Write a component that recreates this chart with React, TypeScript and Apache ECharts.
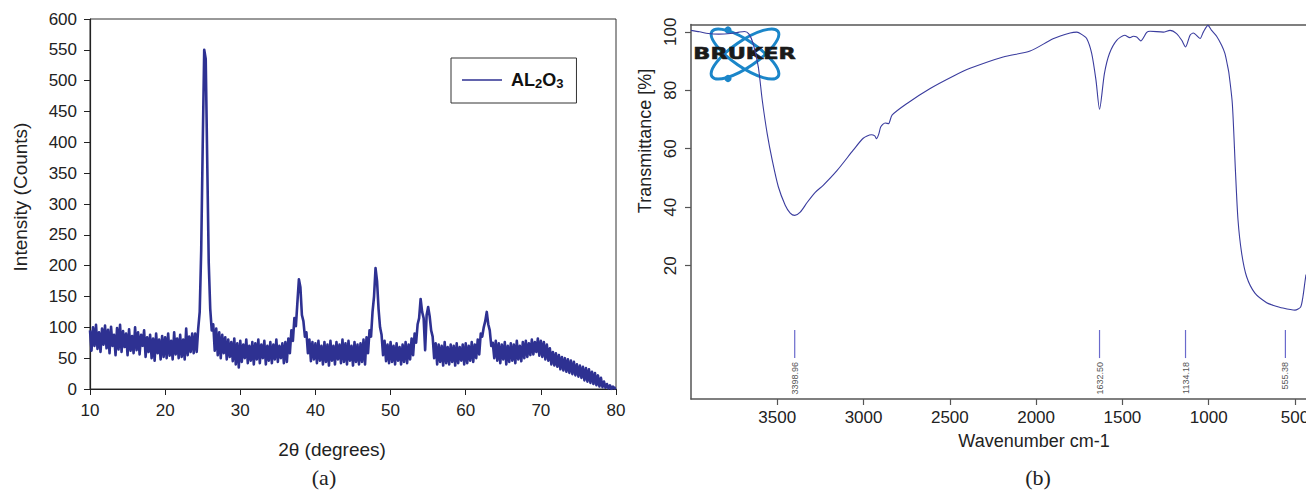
import React, { useEffect, useRef } from "react";
import * as echarts from "echarts";

// ---------- (a) XRD pattern of AL2O3 ----------
const xrdStartAngle = 10; // 2θ of first sample (degrees)
const xrdStepAngle = 0.2; // scan step (degrees)
const xrdCounts: number[] = [
  // 10–12
  95, 62, 100, 70, 104, 65, 92, 60, 98, 72,
  // 12–14
  103, 66, 96, 58, 101, 70, 88, 55, 99, 64,
  // 14–16
  104, 60, 94, 68, 90, 55, 97, 62, 86, 58,
  // 16–18
  100, 63, 92, 56, 88, 70, 95, 52, 84, 60,
  // 18–20
  88, 50, 82, 46, 90, 58, 80, 48, 86, 52,
  // 20–22
  84, 50, 90, 54, 78, 48, 92, 56, 82, 50,
  // 22–24
  88, 52, 80, 48, 98, 55, 85, 60, 90, 58,
  // 24–26
  90, 60, 98, 125, 225, 395, 550, 535, 370, 205,
  // 26–28
  130, 95, 105, 62, 98, 55, 92, 50, 88, 58,
  // 28–30
  84, 48, 80, 52, 76, 45, 82, 40, 74, 35,
  // 30–32
  78, 44, 72, 50, 80, 42, 70, 46, 76, 40,
  // 32–34
  74, 48, 80, 42, 72, 50, 78, 40, 70, 46,
  // 34–36
  76, 42, 72, 48, 80, 44, 70, 50, 74, 42,
  // 36–38
  76, 44, 82, 58, 95, 78, 115, 102, 140, 178,
  // 38–40
  165, 120, 110, 85, 92, 58, 80, 45, 76, 48,
  // 40–42
  74, 42, 78, 46, 70, 40, 76, 44, 72, 38,
  // 42–44
  78, 46, 70, 40, 76, 48, 72, 42, 80, 44,
  // 44–46
  74, 40, 78, 46, 70, 38, 76, 44, 72, 40,
  // 46–48
  74, 44, 80, 40, 84, 58, 95, 85, 125, 150,
  // 48–50
  196, 175, 130, 100, 88, 55, 78, 45, 72, 42,
  // 50–52
  76, 44, 70, 40, 74, 46, 68, 40, 72, 44,
  // 52–54
  76, 42, 72, 48, 82, 55, 90, 75, 105, 115,
  // 54–56
  146, 125, 115, 63, 120, 133, 118, 95, 85, 50,
  // 56–58
  74, 40, 72, 44, 70, 38, 76, 42, 68, 40,
  // 58–60
  72, 44, 70, 38, 74, 42, 68, 46, 72, 40,
  // 60–62
  74, 42, 70, 46, 76, 44, 72, 50, 80, 56,
  // 62–64
  90, 85, 100, 110, 125, 105, 95, 70, 75, 50,
  // 64–66
  78, 46, 74, 42, 72, 48, 76, 40, 70, 44,
  // 66–68
  74, 46, 72, 42, 78, 48, 70, 45, 76, 50,
  // 68–70
  78, 52, 74, 55, 80, 56, 76, 60, 82, 54,
  // 70–72
  78, 52, 76, 48, 72, 46, 66, 40, 60, 38,
  // 72–74
  58, 36, 55, 32, 52, 30, 50, 28, 48, 26,
  // 74–76
  46, 24, 44, 22, 40, 20, 38, 18, 36, 14,
  // 76–78
  34, 12, 32, 10, 28, 8, 26, 6, 22, 4,
  // 78–80
  18, 3, 12, 2, 8, 1, 6, 0, 4, 1,
  // 80
  2,
];

// ---------- (b) FTIR spectrum ----------
const ftirWavenumbers: number[] = [
  4000, 3950, 3900, 3840, 3772, 3720, 3690, 3665, 3640, 3610, 3587, 3558, 3529,
  3494, 3454, 3425, 3399, 3367, 3326, 3280, 3234, 3153, 3060, 3002, 2955, 2935,
  2925, 2912, 2900, 2875, 2855, 2835, 2748, 2614, 2481, 2383, 2191, 2035, 1902,
  1803, 1764, 1736, 1707, 1678, 1653, 1632.5, 1604, 1575, 1533, 1486, 1457,
  1437, 1417, 1394, 1359, 1340, 1263, 1224, 1186, 1156, 1134.18, 1108, 1089,
  1050, 1031, 1004, 983, 954, 925, 906, 891, 883, 863, 845, 830, 809, 780, 732,
  664, 628, 570, 500, 467, 454, 442, 436,
];
const ftirTransmittance: number[] = [
  100.5, 100.0, 99.4, 99.2, 99.4, 99.9, 100.1, 99.3, 96.0, 88.0, 76.6, 65.0,
  56.0, 47.0, 40.7, 38.0, 37.2, 38.3, 41.7, 45.1, 47.5, 52.6, 59.5, 63.6, 64.8,
  64.4, 63.4, 65.0, 67.5, 68.8, 68.6, 71.5, 75.5, 80.6, 84.8, 87.5, 91.4, 93.4,
  97.6, 99.6, 99.9, 99.1, 97.7, 92.6, 83.4, 73.5, 85.8, 92.6, 97.1, 98.8, 98.0,
  98.5, 98.2, 96.9, 99.8, 100.2, 99.9, 100.5, 99.4, 97.1, 94.8, 98.8, 99.6,
  97.7, 99.9, 102.2, 100.5, 98.5, 95.4, 92.6, 88.5, 86.0, 75.5, 52.6, 35.6,
  24.3, 16.2, 10.6, 7.3, 6.5, 5.5, 4.8, 5.9, 9.3, 14.5, 17.0,
];
const peakWavenumbers: number[] = [3398.96, 1632.5, 1134.18, 555.38];
const peakLabels: string[] = ["3398.96", "1632.50", "1134.18", "555.38"];
const wnTickValues: number[] = [3500, 3000, 2500, 2000, 1500, 1000, 500];
const transTickValues: number[] = [20, 40, 60, 80, 100];

const SANS = "'Liberation Sans', Arial, Helvetica, sans-serif";
const SERIF = "'Liberation Serif', 'Times New Roman', serif";
const XRD_COLOR = "#2e3192";
const FTIR_COLOR = "#3a3c9e";
const BRUKER_BLUE = "#1b86c9";

function buildOption(): any {
  const xrdData = xrdCounts.map((c, i) => [
    +(xrdStartAngle + i * xrdStepAngle).toFixed(2),
    c,
  ]);
  const ftirData = ftirWavenumbers.map((w, i) => [w, ftirTransmittance[i]]);
  const peakData = peakWavenumbers.map((w, i) => [w, peakLabels[i]]);

  return {
    animation: false,
    backgroundColor: "#ffffff",
    textStyle: { fontFamily: SANS },
    grid: [
      {
        left: 90,
        top: 19,
        width: 526,
        height: 370,
        show: true,
        borderColor: "#333",
        borderWidth: 1,
        backgroundColor: "transparent",
        containLabel: false,
        outerBoundsMode: "none",
      },
      {
        left: 691,
        top: 24.5,
        width: 615,
        height: 374.5,
        containLabel: false,
        outerBoundsMode: "none",
      },
    ],
    legend: {
      data: [{ name: "AL2O3", icon: "rect" }],
      left: 451,
      top: 58,
      padding: [13, 13, 13, 11],
      itemWidth: 40,
      itemHeight: 1.6,
      borderColor: "#333",
      borderWidth: 1,
      backgroundColor: "#fff",
      formatter: () => "{a|AL}{s|2}{b|O}{s|3}",
      textStyle: {
        rich: {
          a: {
            fontSize: 18,
            fontWeight: "bold",
            color: "#111",
            fontFamily: SANS,
            lineHeight: 20,
            padding: [0, 0, 0, 4],
          },
          b: {
            fontSize: 18,
            fontWeight: "bold",
            color: "#111",
            fontFamily: SANS,
            lineHeight: 20,
          },
          s: {
            fontSize: 13,
            fontWeight: "bold",
            color: "#111",
            fontFamily: SANS,
            padding: [7, 0, 0, 0],
          },
        },
      },
    },
    xAxis: [
      {
        gridIndex: 0,
        type: "value",
        min: 10,
        max: 80,
        interval: 10,
        axisLine: { show: true, onZero: false, lineStyle: { color: "#222", width: 1.2 } },
        axisTick: { show: true, length: 6, lineStyle: { color: "#222" } },
        axisLabel: { color: "#222", fontSize: 17, margin: 13, fontFamily: SANS },
        splitLine: { show: false },
      },
      {
        gridIndex: 1,
        type: "value",
        min: 436,
        max: 4000,
        inverse: true,
        axisLine: { show: true, onZero: false, lineStyle: { color: "#555", width: 1.5 } },
        axisTick: {
          show: true,
          length: 6,
          customValues: wnTickValues,
          lineStyle: { color: "#555", width: 1.2 },
        },
        axisLabel: {
          customValues: wnTickValues,
          formatter: (v: number) => String(v),
          color: "#222",
          fontSize: 17,
          margin: 10,
          fontFamily: SANS,
        },
        splitLine: { show: false },
      },
      {
        gridIndex: 1,
        type: "value",
        position: "top",
        min: 436,
        max: 4000,
        inverse: true,
        axisLine: { show: true, onZero: false, lineStyle: { color: "#555", width: 1.5 } },
        axisTick: { show: false },
        axisLabel: { show: false },
        splitLine: { show: false },
      },
    ],
    yAxis: [
      {
        gridIndex: 0,
        type: "value",
        min: 0,
        max: 600,
        interval: 50,
        axisLine: { show: true, onZero: false, lineStyle: { color: "#222", width: 1.2 } },
        axisTick: { show: true, length: 6, lineStyle: { color: "#222" } },
        axisLabel: { color: "#222", fontSize: 17, margin: 13, fontFamily: SANS },
        splitLine: { show: false },
      },
      {
        gridIndex: 1,
        type: "value",
        min: -25.6,
        max: 102.5,
        axisLine: { show: true, onZero: false, lineStyle: { color: "#555", width: 1.5 } },
        axisTick: {
          show: true,
          length: 6,
          customValues: transTickValues,
          lineStyle: { color: "#555", width: 1.2 },
        },
        axisLabel: {
          customValues: transTickValues,
          formatter: (v: number) => String(v),
          rotate: 90,
          color: "#222",
          fontSize: 17,
          margin: 12,
          fontFamily: SANS,
        },
        splitLine: { show: false },
      },
    ],
    series: [
      {
        name: "AL2O3",
        type: "line",
        xAxisIndex: 0,
        yAxisIndex: 0,
        data: xrdData,
        symbol: "none",
        showSymbol: false,
        lineStyle: { color: XRD_COLOR, width: 2.6, join: "round" },
        itemStyle: { color: XRD_COLOR },
        z: 3,
      },
      {
        name: "FTIR",
        type: "line",
        xAxisIndex: 1,
        yAxisIndex: 1,
        data: ftirData,
        symbol: "none",
        showSymbol: false,
        smooth: 0.25,
        lineStyle: { color: FTIR_COLOR, width: 1.1 },
        itemStyle: { color: FTIR_COLOR },
        z: 3,
      },
      {
        name: "peaks",
        type: "custom",
        xAxisIndex: 1,
        yAxisIndex: 1,
        data: peakData,
        renderItem: (params: any, api: any) => {
          const w = api.value(0);
          const label = peakLabels[params.dataIndex];
          const top = api.coord([w, -2]);
          const bot = api.coord([w, -11.6]);
          return {
            type: "group",
            children: [
              {
                type: "line",
                shape: { x1: top[0], y1: top[1], x2: bot[0], y2: bot[1] },
                style: { stroke: "#6a6acc", lineWidth: 1.2 },
              },
              {
                type: "text",
                x: bot[0],
                y: bot[1] + 4,
                rotation: Math.PI / 2,
                style: {
                  text: label,
                  fontSize: 9,
                  fontFamily: SANS,
                  fill: "#555",
                  align: "right",
                  verticalAlign: "middle",
                },
              },
            ],
          };
        },
        z: 4,
      },
    ],
    graphic: [
      // axis titles and panel captions
      {
        type: "text",
        x: 20,
        y: 197,
        rotation: Math.PI / 2,
        style: {
          text: "Intensity (Counts)",
          font: `19px ${SANS}`,
          fill: "#222",
          align: "center",
          verticalAlign: "middle",
        },
      },
      {
        type: "text",
        x: 332,
        y: 449,
        style: {
          text: "2θ (degrees)",
          font: `19px ${SANS}`,
          fill: "#222",
          align: "center",
          verticalAlign: "middle",
        },
      },
      {
        type: "text",
        x: 324,
        y: 477,
        style: {
          text: "(a)",
          font: `22px ${SERIF}`,
          fill: "#222",
          align: "center",
          verticalAlign: "middle",
        },
      },
      {
        type: "text",
        x: 645,
        y: 141,
        rotation: Math.PI / 2,
        style: {
          text: "Transmittance [%]",
          font: `18px ${SANS}`,
          fill: "#222",
          align: "center",
          verticalAlign: "middle",
        },
      },
      {
        type: "text",
        x: 1034,
        y: 441,
        style: {
          text: "Wavenumber cm-1",
          font: `18px ${SANS}`,
          fill: "#222",
          align: "center",
          verticalAlign: "middle",
        },
      },
      {
        type: "text",
        x: 1038,
        y: 477,
        style: {
          text: "(b)",
          font: `22px ${SERIF}`,
          fill: "#222",
          align: "center",
          verticalAlign: "middle",
        },
      },
      // Bruker logo
      {
        type: "group",
        children: [
          {
            type: "ellipse",
            x: 745,
            y: 54,
            rotation: -0.6,
            shape: { cx: 0, cy: 0, rx: 40, ry: 13 },
            style: { fill: "none", stroke: BRUKER_BLUE, lineWidth: 3 },
          },
          {
            type: "ellipse",
            x: 745,
            y: 54,
            rotation: 0.6,
            shape: { cx: 0, cy: 0, rx: 40, ry: 13 },
            style: { fill: "none", stroke: BRUKER_BLUE, lineWidth: 3 },
          },
          {
            type: "circle",
            shape: { cx: 728, cy: 30, r: 3.6 },
            style: { fill: BRUKER_BLUE },
          },
          {
            type: "circle",
            shape: { cx: 728, cy: 78.5, r: 3.6 },
            style: { fill: BRUKER_BLUE },
          },
          {
            type: "text",
            x: 744.5,
            y: 54,
            scaleX: 1.4,
            style: {
              text: "BRUKER",
              font: `bold 16px 'DejaVu Sans', ${SANS}`,
              fill: "#1a1a1a",
              stroke: "#1a1a1a",
              lineWidth: 0.6,
              align: "center",
              verticalAlign: "middle",
            },
          },
        ],
      },
    ],
  };
}

export default function App() {
  const ref = useRef<HTMLDivElement>(null);
  useEffect(() => {
    if (!ref.current) return;
    const chart = echarts.init(ref.current, null, { renderer: "svg" });
    chart.setOption(buildOption());
    return () => {
      chart.dispose();
    };
  }, []);
  return (
    <div
      ref={ref}
      style={{
        position: "fixed",
        left: 0,
        top: 0,
        width: 1306,
        height: 490,
        background: "#fff",
      }}
    />
  );
}
